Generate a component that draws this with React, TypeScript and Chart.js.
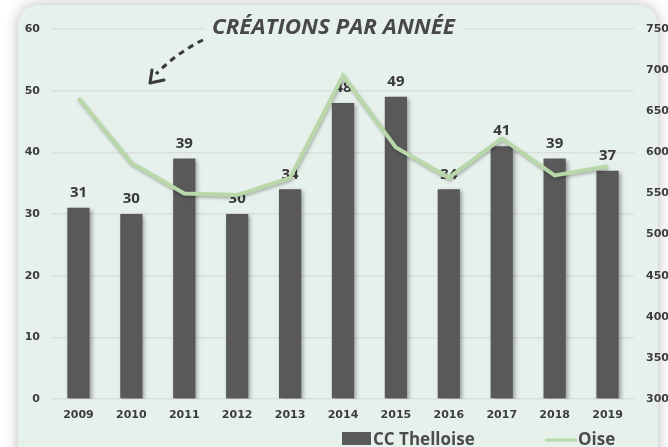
import React, { useEffect, useRef } from "react";
import { Chart, registerables } from "chart.js";

Chart.register(...registerables);

const years = ["2009", "2010", "2011", "2012", "2013", "2014", "2015", "2016", "2017", "2018", "2019"];
const ccThelloise = [31, 30, 39, 30, 34, 48, 49, 34, 41, 39, 37];
const oise = [666, 587, 550, 548, 569, 693, 606, 569, 617, 572, 583];
const titleText = "CRÉATIONS PAR ANNÉE";
const legendBar = "CC Thelloise";
const legendLine = "Oise";

const PANEL = "#e7f1ec";
const BAR = "#595959";
const LINE = "#b8d8a9";
const TEXT = "#383838";
const FONT = "'Open Sans', 'DejaVu Sans', sans-serif";
const TICKFONT = "'DejaVu Sans', sans-serif";

const bgPlugin = {
  id: "bgPanel",
  beforeDraw(chart: any) {
    const ctx = chart.ctx;
    const w = chart.width;
    const h = chart.height;
    ctx.save();
    ctx.fillStyle = "#ffffff";
    ctx.fillRect(0, 0, w, h);
    ctx.shadowColor = "rgba(0,0,0,0.28)";
    ctx.shadowBlur = 14;
    ctx.shadowOffsetX = 0;
    ctx.shadowOffsetY = 0;
    ctx.fillStyle = PANEL;
    ctx.beginPath();
    ctx.roundRect(18, 5, 640, 470, 20);
    ctx.fill();
    ctx.restore();
  },
};

const labelPlugin = {
  id: "barLabels",
  beforeDatasetDraw(chart: any, args: any) {
    const ctx = chart.ctx;
    ctx.save();
    if (args.index === 0) {
      ctx.shadowColor = "rgba(0,0,0,0.35)";
      ctx.shadowBlur = 4;
      ctx.shadowOffsetX = 2;
      ctx.shadowOffsetY = 2;
    } else {
      ctx.shadowColor = "rgba(0,0,0,0.25)";
      ctx.shadowBlur = 3;
      ctx.shadowOffsetX = 1;
      ctx.shadowOffsetY = 2;
    }
  },
  afterDatasetDraw(chart: any, args: any) {
    const ctx = chart.ctx;
    ctx.restore();
    if (args.index !== 0) return;
    const meta = chart.getDatasetMeta(0);
    ctx.save();
    ctx.fillStyle = TEXT;
    ctx.font = `bold 15px ${FONT}`;
    ctx.textAlign = "center";
    ctx.textBaseline = "middle";
    meta.data.forEach((bar: any, i: number) => {
      ctx.fillText(String(ccThelloise[i]), bar.x, bar.y - 15);
    });
    ctx.restore();
  },
};

const decoPlugin = {
  id: "deco",
  beforeDatasetsDraw(chart: any) {
    const ctx = chart.ctx;
    ctx.save();
    ctx.fillStyle = PANEL;
    ctx.fillRect(205, 14, 258, 28);
    ctx.font = `italic bold 21px ${FONT}`;
    ctx.fillStyle = "#484848";
    ctx.textBaseline = "middle";
    ctx.textAlign = "left";
    const tw = ctx.measureText(titleText).width;
    const target = 243;
    ctx.translate(212, 28);
    ctx.scale(target / tw, 1);
    ctx.fillText(titleText, 0, 0);
    ctx.restore();

    ctx.save();
    ctx.strokeStyle = "#3a3a3a";
    ctx.lineWidth = 3;
    ctx.setLineDash([6, 5]);
    ctx.beginPath();
    ctx.moveTo(203, 40);
    ctx.quadraticCurveTo(178, 52, 156, 74);
    ctx.stroke();
    ctx.setLineDash([]);
    ctx.lineCap = "round";
    ctx.lineJoin = "round";
    ctx.beginPath();
    ctx.moveTo(152, 70);
    ctx.lineTo(150, 83);
    ctx.lineTo(164, 80);
    ctx.stroke();
    ctx.restore();
  },
  afterDraw(chart: any) {
    const ctx = chart.ctx;
    ctx.save();
    ctx.fillStyle = BAR;
    ctx.fillRect(342, 432, 29, 13);
    ctx.strokeStyle = LINE;
    ctx.lineWidth = 3;
    ctx.beginPath();
    ctx.moveTo(545, 440);
    ctx.lineTo(577, 440);
    ctx.stroke();
    ctx.fillStyle = "#4c4c4c";
    ctx.font = `bold 17px ${FONT}`;
    ctx.textBaseline = "alphabetic";
    ctx.textAlign = "left";
    ctx.fillText(legendBar, 373, 445);
    ctx.fillText(legendLine, 578, 445);
    ctx.restore();
  },
};

export default function App() {
  const ref = useRef<HTMLCanvasElement | null>(null);
  useEffect(() => {
    if (!ref.current) return;
    const tickFont = { family: TICKFONT, size: 11, weight: "bold" as const };
    const chart = new Chart(ref.current, {
      type: "bar",
      data: {
        labels: years,
        datasets: [
          {
            type: "bar",
            label: legendBar,
            data: ccThelloise,
            backgroundColor: BAR,
            yAxisID: "y",
            barPercentage: 0.42,
            categoryPercentage: 1,
            order: 2,
          },
          {
            type: "line",
            label: legendLine,
            data: oise,
            borderColor: LINE,
            borderWidth: 4,
            pointRadius: 0,
            tension: 0,
            yAxisID: "y1",
            order: 1,
          } as any,
        ],
      },
      options: {
        responsive: false,
        animation: false,
        layout: { padding: { top: 29, left: 0, right: 0, bottom: 0 } },
        plugins: {
          legend: { display: false },
          title: { display: false },
          tooltip: { enabled: false },
        },
        scales: {
          x: {
            grid: { display: false },
            border: { display: false },
            ticks: { font: tickFont, color: "#3c3c3c", padding: 2, maxRotation: 0 },
            afterFit(scale: any) {
              scale.height = 48;
            },
          },
          y: {
            position: "left",
            min: 0,
            max: 60,
            ticks: { stepSize: 10, font: tickFont, color: "#3c3c3c", padding: 12 },
            grid: { color: "#d9dfdc", drawTicks: false, lineWidth: 1.5 },
            border: { display: false },
            afterFit(scale: any) {
              scale.width = 52;
            },
          },
          y1: {
            position: "right",
            min: 300,
            max: 750,
            ticks: { stepSize: 50, font: tickFont, color: "#3c3c3c", padding: 12 },
            grid: { display: false, drawTicks: false },
            border: { display: false },
            afterFit(scale: any) {
              scale.width = 34;
            },
          },
        },
      },
      plugins: [bgPlugin, labelPlugin, decoPlugin],
    });
    return () => chart.destroy();
  }, []);
  return (
    <div style={{ position: "absolute", left: 0, top: 0, width: 668, height: 447 }}>
      <canvas ref={ref} width={668} height={447} style={{ display: "block" }} />
    </div>
  );
}
